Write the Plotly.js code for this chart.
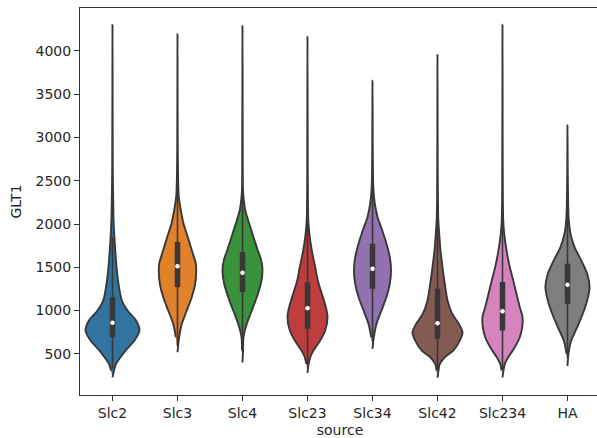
<!DOCTYPE html>
<html>
<head>
<meta charset="utf-8">
<script src="https://cdn.plot.ly/plotly-3.0.1.min.js"></script>
<style>
html,body{margin:0;padding:0;overflow:hidden;background:#fff;}
#chart{width:601px;height:438px;}
</style>
</head>
<body>
<div id="chart"></div>
<script>
// ---- data ----
const categories = ['Slc2', 'Slc3', 'Slc4', 'Slc23', 'Slc34', 'Slc42', 'Slc234', 'HA'];

// violin outlines: GLT1 values (bottom tip -> top tip) and half-widths (category units)
const slc2_y   = [229, 307, 384, 461, 538, 654, 770, 886, 1001, 1117, 1310, 1503, 1696, 1889, 2082, 2600, 4301];
const slc2_w   = [0, 0.023, 0.054, 0.123, 0.2, 0.338, 0.415, 0.362, 0.231, 0.143, 0.092, 0.062, 0.042, 0.026, 0.015, 0.005, 0];
const slc3_y   = [519, 692, 847, 1001, 1156, 1310, 1464, 1542, 1696, 1850, 2005, 2159, 2313, 2468, 2900, 4193];
const slc3_w   = [0, 0.026, 0.066, 0.143, 0.22, 0.272, 0.288, 0.282, 0.22, 0.158, 0.092, 0.051, 0.02, 0.011, 0.004, 0];
const slc4_y   = [400, 538, 692, 847, 1001, 1156, 1310, 1464, 1580, 1696, 1850, 2005, 2159, 2275, 2391, 2900, 4289];
const slc4_w   = [0, 0.008, 0.015, 0.066, 0.143, 0.22, 0.282, 0.308, 0.288, 0.235, 0.169, 0.103, 0.042, 0.02, 0.008, 0.004, 0];
const slc23_y  = [280, 384, 461, 538, 654, 770, 924, 1040, 1194, 1349, 1503, 1696, 1850, 2005, 2159, 2700, 4162];
const slc23_w  = [0, 0.018, 0.042, 0.092, 0.195, 0.272, 0.308, 0.282, 0.22, 0.158, 0.118, 0.066, 0.035, 0.015, 0.008, 0.004, 0];
const slc34_y  = [558, 692, 847, 1001, 1156, 1310, 1464, 1619, 1773, 1928, 2082, 2237, 2391, 2545, 2900, 3656];
const slc34_w  = [0, 0.02, 0.062, 0.138, 0.215, 0.266, 0.285, 0.266, 0.215, 0.149, 0.077, 0.035, 0.015, 0.008, 0.004, 0];
const slc42_y  = [225, 307, 384, 461, 538, 654, 750, 847, 963, 1117, 1310, 1503, 1696, 1889, 2082, 2600, 3954];
const slc42_w  = [0, 0.015, 0.035, 0.112, 0.242, 0.343, 0.385, 0.328, 0.226, 0.154, 0.112, 0.077, 0.046, 0.026, 0.011, 0.004, 0];
const slc234_y = [229, 307, 384, 461, 577, 692, 808, 924, 1040, 1194, 1349, 1503, 1696, 1889, 2043, 2600, 4301];
const slc234_w = [0, 0.015, 0.035, 0.088, 0.189, 0.266, 0.303, 0.308, 0.266, 0.215, 0.165, 0.112, 0.062, 0.026, 0.011, 0.004, 0];
const ha_y     = [360, 500, 654, 808, 963, 1117, 1271, 1426, 1580, 1734, 1889, 2043, 2198, 2600, 3140];
const ha_w     = [0, 0.015, 0.057, 0.149, 0.235, 0.303, 0.34, 0.303, 0.211, 0.108, 0.046, 0.02, 0.011, 0.004, 0];

// inner box statistics
const q1         = [692, 1271, 1213, 789, 1252, 673, 770, 1079];
const medians    = [859, 1511, 1437, 1028, 1483, 854, 993, 1299];
const q3         = [1156, 1792, 1676, 1330, 1773, 1252, 1330, 1542];
const whiskerLow = [330, 590, 520, 380, 650, 320, 320, 460];
const whiskerHigh= [1850, 2570, 2370, 2140, 2550, 2120, 2170, 2235];

// ---- styles ----
const fills = ['#3274a1', '#e1812c', '#3a923a', '#c03d3e', '#9372b2', '#845b53', '#d684bd', '#7f7f7f'];
const edge = '#383838';

const outlines = [
  [slc2_y, slc2_w], [slc3_y, slc3_w], [slc4_y, slc4_w], [slc23_y, slc23_w],
  [slc34_y, slc34_w], [slc42_y, slc42_w], [slc234_y, slc234_w], [ha_y, ha_w]
];

const traces = [];
outlines.forEach(function (o, i) {
  const ys = o[0], ws = o[1];
  const x = [], y = [];
  for (let k = 0; k < ys.length; k++) { x.push(i + ws[k]); y.push(ys[k]); }
  for (let k = ys.length - 2; k >= 1; k--) { x.push(i - ws[k]); y.push(ys[k]); }
  traces.push({
    type: 'scatter', mode: 'lines', x: x, y: y, fill: 'toself',
    fillcolor: fills[i], line: {color: edge, width: 1.9, shape: 'spline', smoothing: 0.8},
    hoverinfo: 'skip', showlegend: false
  });
});
categories.forEach(function (c, i) {
  traces.push({
    type: 'scatter', mode: 'lines', x: [i, i], y: [whiskerLow[i], whiskerHigh[i]],
    line: {color: edge, width: 1.6}, hoverinfo: 'skip', showlegend: false
  });
  traces.push({
    type: 'scatter', mode: 'lines', x: [i, i], y: [q1[i], q3[i]],
    line: {color: edge, width: 5.5}, hoverinfo: 'skip', showlegend: false
  });
});
traces.push({
  type: 'scatter', mode: 'markers', x: categories.map(function (c, i) { return i; }), y: medians,
  marker: {color: '#ffffff', size: 4.5, line: {width: 0}}, hoverinfo: 'skip', showlegend: false
});

const axisCommon = {
  showgrid: false, zeroline: false, showline: true, mirror: true,
  linecolor: '#333333', linewidth: 1, ticks: 'outside', ticklen: 5, tickwidth: 1,
  tickcolor: '#333333', tickfont: {family: 'DejaVu Sans', size: 14, color: '#262626'}
};

const layout = {
  width: 601, height: 438,
  margin: {l: 80, r: 1, t: 8, b: 43},
  paper_bgcolor: '#ffffff', plot_bgcolor: '#ffffff',
  font: {family: 'DejaVu Sans', size: 14, color: '#262626'},
  showlegend: false,
  xaxis: Object.assign({}, axisCommon, {
    range: [-0.5, 7.5], tickmode: 'array',
    tickvals: categories.map(function (c, i) { return i; }), ticktext: categories,
    title: {text: 'source', font: {family: 'DejaVu Sans', size: 14, color: '#262626'}, standoff: 7}
  }),
  yaxis: Object.assign({}, axisCommon, {
    range: [25, 4495], tickmode: 'array',
    tickvals: [500, 1000, 1500, 2000, 2500, 3000, 3500, 4000],
    ticktext: ['500', '1000', '1500', '2000', '2500', '3000', '3500', '4000'],
    title: {text: 'GLT1', font: {family: 'DejaVu Sans', size: 14, color: '#262626'}, standoff: 10}
  })
};

Plotly.newPlot('chart', traces, layout, {displayModeBar: false, staticPlot: true});
</script>
</body>
</html>
